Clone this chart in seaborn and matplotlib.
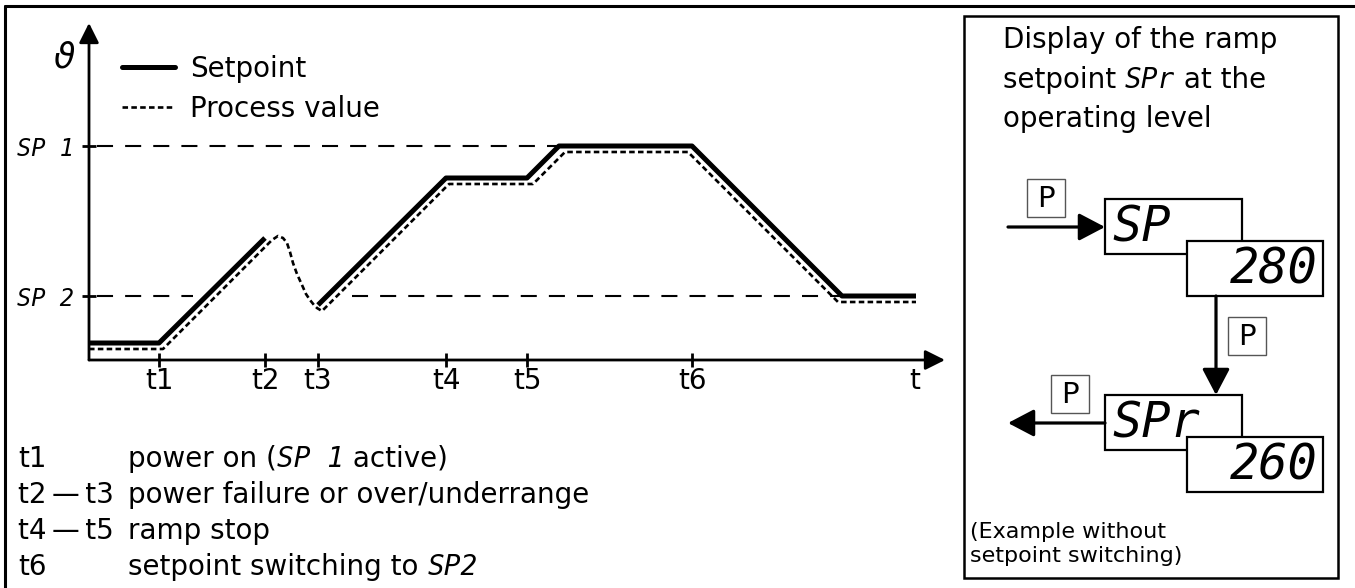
import matplotlib
matplotlib.use('Agg')
import pandas as pd
import seaborn as sns
import matplotlib.pyplot as plt
from matplotlib.patches import Rectangle
from matplotlib.lines import Line2D

sns.set_theme(style='white')
plt.rcParams['font.family'] = ['DejaVu Sans']
plt.rcParams['text.color'] = 'black'
plt.rcParams['axes.labelcolor'] = 'black'

# --- data -----------------------------------------------------------------
# time marks on the t axis
tick_names = ['t1', 't2', 't3', 't4', 't5', 't6', 't']
tick_pos = [7.0, 17.6, 22.9, 35.7, 43.8, 60.3, 82.6]

# setpoint levels on the vertical axis
sp_names = ['SP 1', 'SP 2']
sp_levels = [21.4, 6.4]

# dashed guide lines for SP1 / SP2 (level, start, end)
ref_y = [21.4, 6.4, 6.4]
ref_x0 = [0.8, 0.8, 26.3]
ref_x1 = [47.0, 10.4, 75.3]

# setpoint curve, two pieces (gap t2..t3 = power failure)
sp_seg = [0, 0, 0, 1, 1, 1, 1, 1, 1, 1]
sp_t = [0.0, 7.0, 17.6, 22.9, 35.7, 43.8, 47.0, 60.3, 75.3, 82.7]
sp_v = [1.7, 1.7, 12.2, 5.5, 18.2, 18.2, 21.4, 21.4, 6.4, 6.4]

# process value curve
pv_t = [0.0, 7.4, 17.6, 18.3, 18.9, 19.4, 19.8, 20.1, 20.4, 20.8, 21.3,
        21.7, 22.1, 22.5, 22.8, 23.3, 36.0, 44.4, 47.6, 59.9, 74.9, 82.7]
pv_v = [1.1, 1.1, 11.3, 12.0, 12.4, 12.2, 11.7, 10.8, 9.7, 8.6, 7.5,
        6.6, 6.0, 5.5, 5.2, 4.9, 17.6, 17.6, 20.8, 20.8, 5.8, 5.8]

# legend / notes
legend_names = ['Setpoint', 'Process value']
note_keys = ['t1', 't2\u2009\u2014\u2009t3', 't4\u2009\u2014\u2009t5', 't6']
display_vals = ['280', '260']

sp_df = pd.DataFrame({'t': sp_t, 'v': sp_v, 'seg': sp_seg})
pv_df = pd.DataFrame({'t': pv_t, 'v': pv_v})

W, H = 1355, 588
fig = plt.figure(figsize=(W / 100, H / 100), dpi=100)

# overlay in picture pixels for frames and texts
ov = fig.add_axes([0, 0, 1, 1], zorder=0)
ov.set_xlim(0, W)
ov.set_ylim(H, 0)
ov.axis('off')

ax = fig.add_axes([89 / W, 1 - 360 / H, (945 - 89) / W, (360 - 23) / H], zorder=1)
ax.set_facecolor('none')
ax.set_xlim(0, 85.6)
ax.set_ylim(0, 33.7)
for s in ax.spines.values():
    s.set_visible(False)

seg_font = dict(family='DejaVu Sans Mono', style='oblique')
PV_DASH = (0, (2.1, 1.25))

# curves
ax.hlines(ref_y, ref_x0, ref_x1, colors='black', linewidth=1.5,
          linestyles=[(0, (7.7, 5.8))])
sns.lineplot(data=pv_df, x='t', y='v', sort=False, estimator=None, ax=ax,
             color='black', lw=1.9, linestyle=PV_DASH)
sns.lineplot(data=sp_df, x='t', y='v', units='seg', sort=False, estimator=None,
             ax=ax, color='black', lw=3.6, solid_capstyle='butt')
ax.set_xlabel('')
ax.set_ylabel('')

# axes with arrow heads
arr = dict(arrowstyle='-|>,head_length=0.6,head_width=0.3', lw=2, color='black',
           shrinkA=0, shrinkB=0, mutation_scale=20)
ax.annotate('', xy=(1, 0), xytext=(0, 0), xycoords='axes fraction',
            textcoords='axes fraction', arrowprops=arr, annotation_clip=False)
ax.annotate('', xy=(0, 1), xytext=(0, 0), xycoords='axes fraction',
            textcoords='axes fraction', arrowprops=arr, annotation_clip=False)

ax.set_xticks(tick_pos, tick_names)
ax.set_yticks(sp_levels, sp_names)
ax.tick_params(axis='x', bottom=True, direction='inout', length=10, width=2,
               labelsize=20, pad=0, colors='black')
ax.tick_params(axis='y', left=True, direction='inout', length=10, width=2,
               labelsize=17, pad=6, colors='black')
ax.xaxis.get_major_ticks()[-1].tick1line.set_visible(False)
for lab in ax.get_yticklabels():
    lab.set_fontfamily('DejaVu Sans Mono')
    lab.set_fontstyle('oblique')

handles = [Line2D([], [], color='black', lw=3.6),
           Line2D([], [], color='black', lw=1.9, linestyle=PV_DASH)]
ax.legend(handles, legend_names, loc='upper left',
          bbox_to_anchor=(122 / W, 1 - 55 / H), bbox_transform=fig.transFigure,
          frameon=False, fontsize=20, handlelength=1.9, handletextpad=0.55,
          labelspacing=0.42, borderpad=0, borderaxespad=0, labelcolor='black')

ov.text(64, 58, r'$\vartheta$', fontsize=25, ha='center', va='center')

# frames
ov.plot([5, W], [6, 6], color='black', lw=2.2)
ov.plot([5, 5], [6, H], color='black', lw=2.2)
ov.add_patch(Rectangle((964, 16), 374, 562, fill=False, ec='black', lw=1.8))

renderer = fig.canvas.get_renderer()


def write_line(x, y, pieces, size=20):
    for txt, font in pieces:
        t = ov.text(x, y, txt, fontsize=size, va='baseline', ha='left', **font)
        x = t.get_window_extent(renderer).x1


plain = {}
# notes under the chart
note_rows = [
    [('power on (', plain), ('SP 1', seg_font), (' active)', plain)],
    [('power failure or over/underrange', plain)],
    [('ramp stop', plain)],
    [('setpoint switching to ', plain), ('SP2', seg_font)],
]
for i, (key, row) in enumerate(zip(note_keys, note_rows)):
    y = 467 + 36 * i
    ov.text(18, y, key, fontsize=20, va='baseline')
    write_line(128, y, row)

# right panel
write_line(1003, 48, [('Display of the ramp', plain)])
write_line(1003, 88, [('setpoint ', plain), ('SPr', seg_font), (' at the', plain)])
write_line(1003, 127, [('operating level', plain)])
ov.text(970, 538, '(Example without', fontsize=16, va='baseline')
ov.text(970, 562, 'setpoint switching)', fontsize=16, va='baseline')

# two display windows
for top, name, val in [(199, 'SP', display_vals[0]), (395, 'SPr', display_vals[1])]:
    ov.add_patch(Rectangle((1105, top), 137, 55, fc='white', ec='black', lw=1.6, zorder=2))
    ov.add_patch(Rectangle((1187, top + 42), 136, 55, fc='white', ec='black', lw=1.6, zorder=3))
    ov.text(1112, top + 28, name, fontsize=35, va='center', ha='left', zorder=4, **seg_font)
    ov.text(1318, top + 70, val, fontsize=35, va='center', ha='right', zorder=4, **seg_font)

# key P boxes
for px, py in [(1027, 179), (1228, 317), (1051, 375)]:
    ov.add_patch(Rectangle((px, py), 38, 38, fc='white', ec='#555555', lw=1))
    ov.text(px + 19, py + 20, 'P', fontsize=21, ha='center', va='center')

parr = dict(arrowstyle='-|>,head_length=0.8,head_width=0.42', lw=2.3, color='black',
            shrinkA=0, shrinkB=0, mutation_scale=20)
ov.annotate('', xy=(1105, 227), xytext=(1008, 227), arrowprops=parr)
ov.annotate('', xy=(1216, 395), xytext=(1216, 296), arrowprops=parr)
ov.annotate('', xy=(1008, 423), xytext=(1105, 423), arrowprops=parr)

fig.savefig('out.png', dpi=100)
